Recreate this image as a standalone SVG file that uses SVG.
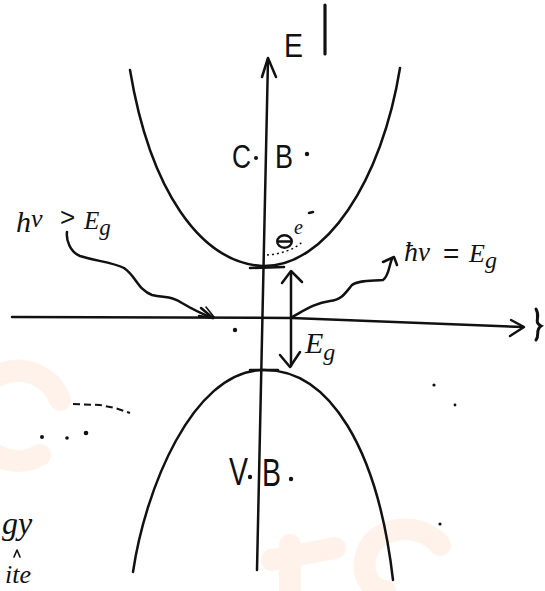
<svg xmlns="http://www.w3.org/2000/svg" width="545" height="591" viewBox="0 0 545 591">
<style>
.ln{fill:none;stroke:#111;stroke-width:2.5;stroke-linecap:round;stroke-linejoin:round}
.thin{fill:none;stroke:#111;stroke-width:1.6;stroke-linecap:round;stroke-linejoin:round}
.tx{font-family:"Liberation Sans","DejaVu Sans",sans-serif;fill:#111}
.hw{font-family:"Liberation Serif","DejaVu Serif",serif;font-style:italic;fill:#111}
.wm{fill:none;stroke:#fff2ea;stroke-width:22;stroke-linecap:round}
.dot{fill:#111}
</style>
<rect width="545" height="591" fill="#fff"/>
<g id="watermark">
  <path class="wm" d="M60,400 A45,45 0 1 0 40,455"/>
  <path class="wm" d="M290,545 L290,591 M272,560 L335,548"/>
  <path class="wm" d="M440,545 C420,520 370,525 365,560 C362,580 375,591 385,591"/>
</g>
<g id="connectors">
  <!-- energy axis -->
  <path class="ln" d="M257,570 L268,59"/>
  <path class="ln" d="M262,77 L268,58 L276,77"/>
  <!-- k axis -->
  <path class="ln" d="M12,317 L292,318 L523,327"/>
  <path class="ln" d="M511,320 L524,327 L510,336"/>
  <path d="M536,309 C541,317 533,322 541,326 C535,330 540,335 536,340" fill="none" stroke="#111" stroke-width="3" stroke-linecap="round"/>
  <!-- Eg double arrow -->
  <path class="ln" d="M291,272 L291,366"/>
  <path class="ln" d="M282,283 L291,271 L302,282"/>
  <path class="ln" d="M280,355 L290,367 L300,352"/>
  <!-- photon hv > Eg -->
  <path class="ln" d="M67,232 C66,240 70,252 80,256 C95,261 112,262 124,268 C136,276 138,290 152,295 C165,298 172,296 182,303 C192,309 202,314 213,318"/>
  <path class="ln" d="M201,308 L213,318 L199,316"/>
  <path class="thin" d="M206,307 L214,317"/>
  <!-- photon hv = Eg -->
  <path class="ln" d="M292,317 C305,310 315,303 330,301 C342,300 346,292 352,285 C358,280 372,281 383,280 C389,276 389,265 392,259"/>
  <path class="ln" d="M383,262 L394,257 L397,265"/>
</g>
<g id="conduction-band">
  <path class="ln" d="M130,70 C150,190 200,262 262,266 C326,268 382,180 400,68"/>
  <path class="ln" d="M250,268 L284,267"/>
  <text class="tx" x="232" y="168" font-size="33" textLength="19" lengthAdjust="spacingAndGlyphs">C</text>
  <circle class="dot" cx="256" cy="158" r="2"/>
  <text class="tx" x="275" y="168" font-size="33" textLength="18" lengthAdjust="spacingAndGlyphs">B</text>
  <circle class="dot" cx="307" cy="154" r="2.2"/>
</g>
<g id="electron">
  <ellipse cx="284.5" cy="241.5" rx="7.3" ry="6.3" fill="none" stroke="#111" stroke-width="2.4"/>
  <path class="ln" d="M278,241.5 L291,241.5"/>
  <text class="hw" x="294" y="234" font-size="20">e</text>
  <path class="ln" d="M309,213 L313,212"/>
  <path d="M267,255 C280,254 294,250 302,242" fill="none" stroke="#111" stroke-width="1.5" stroke-dasharray="2 3"/>
</g>
<g id="valence-band">
  <path class="ln" d="M133,572 C145,490 192,372 262,370 C330,368 378,450 393,580"/>
  <path class="ln" d="M250,370 L278,370"/>
  <text class="tx" x="229" y="485" font-size="38" textLength="19" lengthAdjust="spacingAndGlyphs">V</text>
  <circle class="dot" cx="250" cy="477" r="2.2"/>
  <text class="tx" x="262" y="486" font-size="38" textLength="19" lengthAdjust="spacingAndGlyphs">B</text>
  <circle class="dot" cx="291" cy="479" r="2.2"/>
</g>
<g id="axis-labels">
  <text class="tx" x="284" y="57" font-size="33" textLength="19" lengthAdjust="spacingAndGlyphs">E</text>
  <path d="M325,5 L325,54" stroke="#111" stroke-width="3.2" stroke-linecap="round"/>
  <text class="hw" x="305" y="353" font-size="30">E<tspan font-size="24" dy="7">g</tspan></text>
</g>
<g id="label-hv-gt-eg">
  <text class="hw" x="16" y="232" font-size="30">h<tspan font-size="26" dy="-5">ν</tspan></text>
  <text class="tx" x="60" y="226" font-size="26">&gt;</text>
  <text class="hw" x="84" y="229" font-size="25">E<tspan font-size="23" dy="6">g</tspan></text>
</g>
<g id="label-hv-eq-eg">
  <text class="hw" x="404" y="261" font-size="28">ħ<tspan font-size="27">ν</tspan></text>
  <text class="tx" x="443" y="263" font-size="28">=</text>
  <text class="hw" x="469" y="262" font-size="26">E<tspan font-size="24" dy="6">g</tspan></text>
</g>
<g id="margin-text">
  <text class="hw" x="2" y="534" font-size="32">gy</text>
  <path class="thin" d="M14,557 L17,550 L20,557"/>
  <text class="hw" x="5" y="583" font-size="26">ite</text>
</g>
<g id="marks">
  <path d="M73,404 L100,405 L115,408 L130,413" fill="none" stroke="#111" stroke-width="2" stroke-dasharray="7 4"/>
  <circle class="dot" cx="235" cy="330" r="2.2"/>
  <circle class="dot" cx="86" cy="433" r="2.3"/>
  <circle class="dot" cx="42" cy="437" r="2"/>
  <circle class="dot" cx="67" cy="438" r="1.8"/>
  <circle class="dot" cx="434" cy="385" r="1.6"/>
  <circle class="dot" cx="440" cy="524" r="1.6"/>
  <circle class="dot" cx="455" cy="405" r="1.4"/>
</g>
</svg>
